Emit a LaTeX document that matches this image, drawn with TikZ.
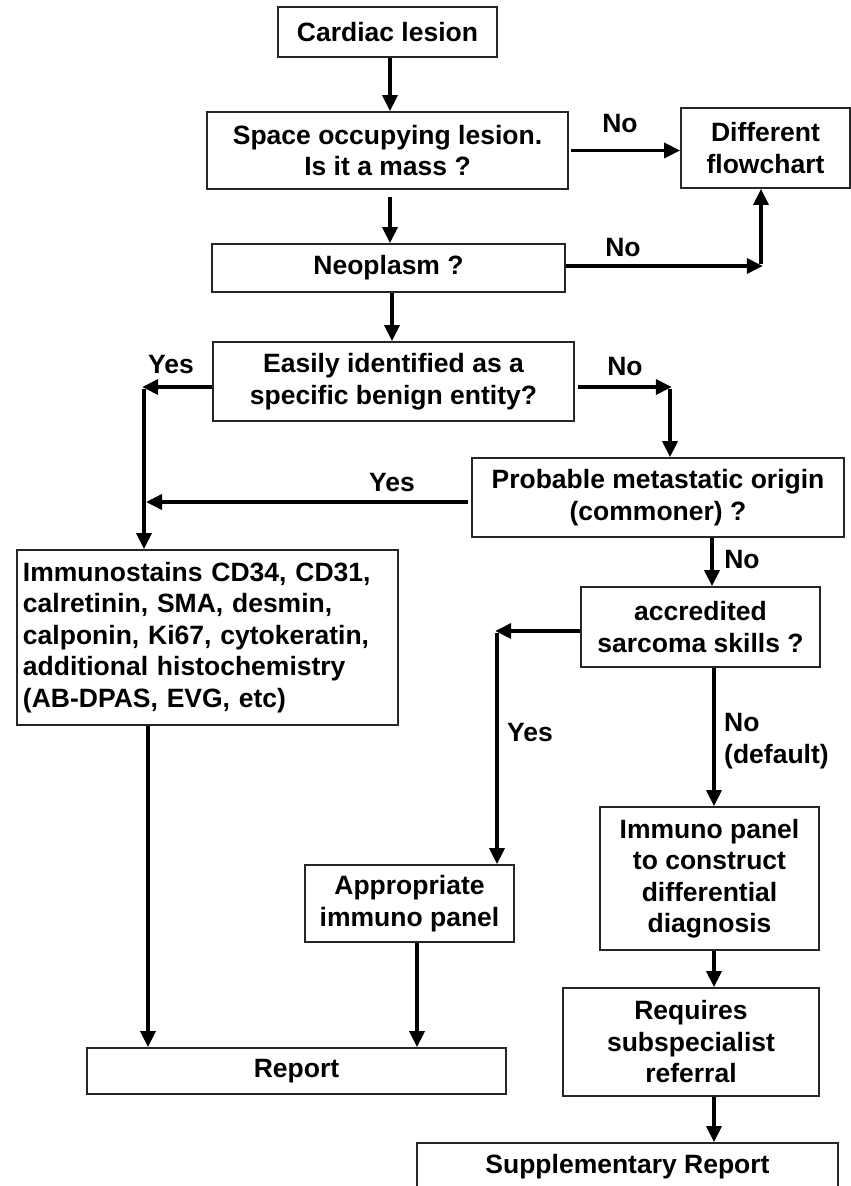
\documentclass[tikz,border=0pt]{standalone}
\usepackage{fontspec}
\setmainfont{Liberation Sans}
\usetikzlibrary{arrows.meta}
\begin{document}
\begin{tikzpicture}[x=1pt,y=-1pt,
  box/.style={draw=black!85,line width=1.8pt,inner sep=0pt,align=center,
    font=\fontsize{26.5}{31.5}\selectfont\bfseries},
  lbl/.style={inner sep=0pt,font=\fontsize{26.5}{31.5}\selectfont\bfseries},
  arr/.style={line width=3.6pt,-{Triangle[length=16pt,width=15pt]}}]
\useasboundingbox (0,0) rectangle (851,1186);
\fill[white] (0,0) rectangle (851,1186);
% boxes
\node[box,minimum width=219pt,minimum height=50pt] (card) at (387.5,32) {Cardiac lesion};
\node[box,minimum width=361pt,minimum height=77pt] (sol) at (387.5,150.5) {Space occupying lesion.\\Is it a mass ?};
\node[box,minimum width=169pt,minimum height=80pt] (diff) at (765.5,148) {Different\\flowchart};
\node[box,minimum width=353pt,minimum height=48pt] (neo) at (388.5,268) {Neoplasm ?};
\node[box,minimum width=361pt,minimum height=79pt] (easy) at (393.5,381.5) {Easily identified as a\\specific benign entity?};
\node[box,minimum width=372pt,minimum height=79pt] (prob) at (658,497.5) {Probable metastatic origin\\(commoner) ?};
\node[box,minimum width=381pt,minimum height=175pt,align=left,text width=369pt,inner xsep=0pt] (imm) at (207.5,637.5) {Immunostains CD34, CD31,\\calretinin, SMA, desmin,\\calponin, Ki67, cytokeratin,\\additional histochemistry\\(AB-DPAS, EVG, etc)};
\node[box,minimum width=239pt,minimum height=80pt] (accr) at (700.5,627) {accredited\\sarcoma skills ?};
\node[box,minimum width=209pt,minimum height=77pt] (appr) at (409.5,903.5) {Appropriate\\immuno panel};
\node[box,minimum width=219pt,minimum height=143pt] (panel) at (709.5,878.5) {Immuno panel\\to construct\\differential\\diagnosis};
\node[box,minimum width=419pt,minimum height=46pt] (rep) at (296.5,1071) {Report};
\node[box,minimum width=256pt,minimum height=108pt] (req) at (691,1042) {Requires\\subspecialist\\referral};
\node[box,minimum width=421pt,minimum height=48pt] (supp) at (627.5,1167) {Supplementary Report};
% helper coordinates
\coordinate (c1) at (761,266);
\coordinate (c2) at (144,387);
\coordinate (c3) at (670,387);
\coordinate (c4) at (146,502);
\coordinate (c5) at (497,631);
\coordinate (kA) at (712,0);
\coordinate (kB) at (714,0);
\coordinate (kC) at (148,0);
\coordinate (kD) at (417,0);
\coordinate (kE) at (390,0);
% connectors
\draw[arr] (card.south -| kE) -- (sol.north -| kE);
\draw[arr] ([xshift=2pt]sol.east) -- (sol.east -| diff.west);
\draw[arr,shorten <=7pt] (sol.south -| kE) -- (neo.north -| kE);
\draw[arr] (neo.east |- c1) -- ([xshift=1.8pt]c1);
\draw[arr] ([yshift=1.8pt]c1) -- (c1 |- diff.south);
\draw[arr] ([xshift=3.5pt]neo.south) -- ([xshift=-1.5pt]easy.north);
\draw[arr] (easy.west |- c2) -- ([xshift=-1.8pt]c2);
\draw[arr] ([yshift=-1.8pt]c2) -- (c2 |- imm.north);
\draw[arr] ([xshift=3pt]easy.east |- c3) -- ([xshift=1.8pt]c3);
\draw[arr] ([yshift=-1.8pt]c3) -- (c3 |- prob.north);
\draw[arr] ([xshift=-3pt]prob.west |- c4) -- (c4);
\draw[arr] (prob.south -| kA) -- (accr.north -| kA);
\draw[arr] (accr.west |- c5) -- ([xshift=-1.8pt]c5);
\draw[arr] ([yshift=-1.8pt]c5) -- (c5 |- appr.north);
\draw[arr] (accr.south -| kB) -- (panel.north -| kB);
\draw[arr] (imm.south -| kC) -- (rep.north -| kC);
\draw[arr] (appr.south -| kD) -- (rep.north -| kD);
\draw[arr] (panel.south -| kB) -- (req.north -| kB);
\draw[arr] (req.south -| kB) -- (supp.north -| kB);
% labels
\node[lbl] (l1) at (620,124) {No};
\node[lbl] (l2) at (623,248) {No};
\node[lbl] (l3) at (171,365) {Yes};
\node[lbl] (l4) at (625,367) {No};
\node[lbl] (l5) at (392,483) {Yes};
\node[lbl] (l6) at (742,560) {No};
\node[lbl] (l7) at (530,733) {Yes};
\node[lbl,anchor=west,align=left] (l8) at (724,741) {No\\(default)};
\end{tikzpicture}
\end{document}
